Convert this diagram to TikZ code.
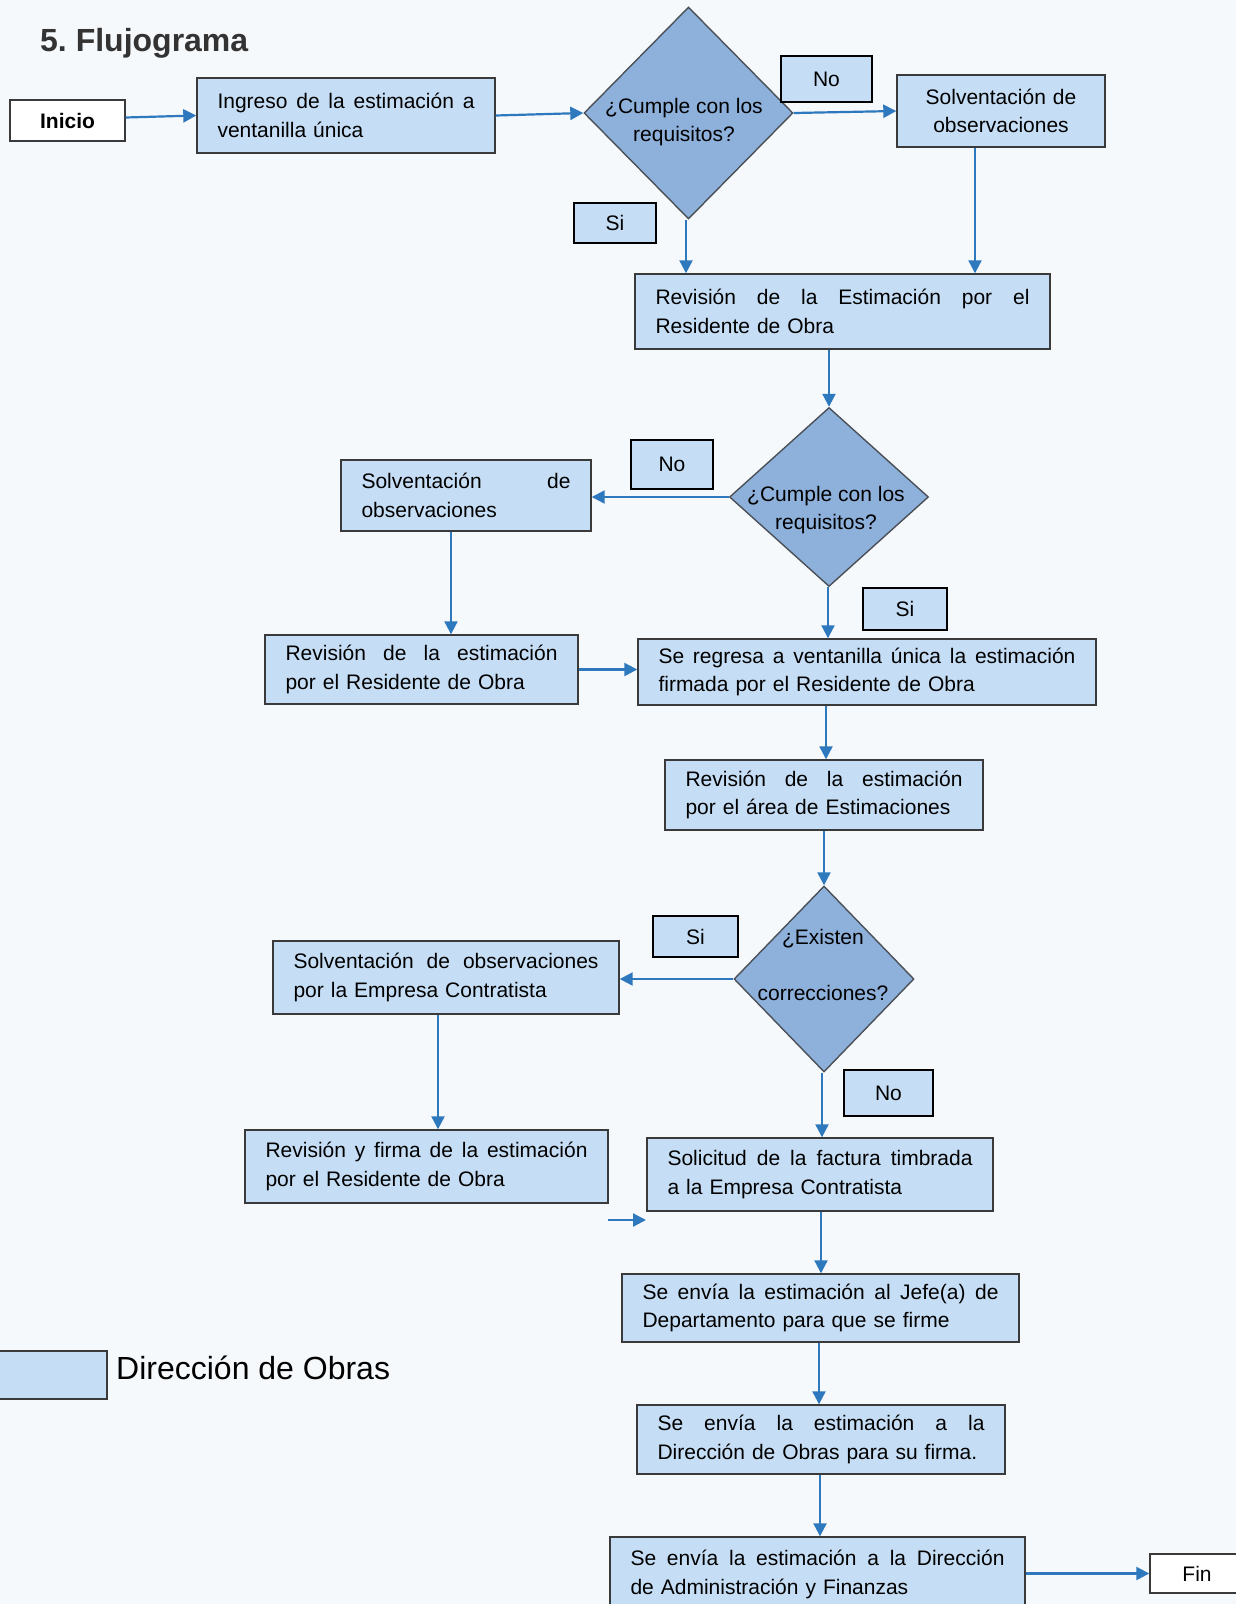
\documentclass[tikz,border=0pt]{standalone}
\usepackage{fontspec}
\setmainfont{Liberation Sans}
\usetikzlibrary{shapes.geometric,arrows.meta,calc}
\definecolor{bg}{HTML}{F6F9FC}
\definecolor{boxfill}{HTML}{C6DEF5}
\definecolor{diafill}{HTML}{8EB1DC}
\definecolor{arrc}{HTML}{2E78BE}
\definecolor{edgec}{HTML}{3A3A3A}
\definecolor{diaedge}{HTML}{4A5058}
\definecolor{titlec}{HTML}{333333}
\newcommand{\jl}[2]{\hbox to #1pt{\spaceskip=0.278em plus 1fil\relax #2}}
\frenchspacing
\begin{document}
\begin{tikzpicture}[x=1pt,y=-1pt,
  pb/.style={draw=edgec, line width=1.4pt, fill=boxfill, rectangle, inner xsep=20.5pt, inner ysep=0pt, align=left, font=\fontsize{21}{28.5}\selectfont},
  lbl/.style={draw=black, line width=1.4pt, fill=boxfill, rectangle, inner sep=0pt, font=\fontsize{21}{25}\selectfont},
  term/.style={draw=edgec, line width=1.4pt, fill=white, rectangle, inner sep=0pt, font=\fontsize{21}{25}\selectfont},
  dia/.style={draw=diaedge, line width=1.4pt, fill=diafill, diamond, inner sep=0pt},
  dtext/.style={align=center, inner sep=0pt, font=\fontsize{21}{28.5}\selectfont},
  arr/.style={draw=arrc, line width=2.2pt, -{Triangle[length=13pt,width=13pt]}}]
\fill[bg] (0,0) rectangle (1236,1604);
\useasboundingbox (0,0) rectangle (1236,1604);
\clip (0,0) rectangle (1236,1604);

\node[anchor=west, inner sep=0pt, font=\bfseries\fontsize{32}{36}\selectfont, text=titlec] (title) at (40,43) {5.\ Flujograma};

% start / end
\node[term, minimum width=115, minimum height=41, font=\bfseries\fontsize{21}{25}\selectfont] (inicio) at (67.5,120.5) {Inicio};
\node[term, minimum width=94, minimum height=39] (fin) at (1197,1573.5) {Fin};

% process boxes
\node[pb, minimum width=298, minimum height=75, text width=257] (ingreso) at (346,115.5) {\jl{257}{Ingreso de la estimación a}\\ventanilla única};
\node[pb, minimum width=208, minimum height=72, text width=167, align=center] (solv1) at (1001,111) {Solventación de\\observaciones};
\node[pb, minimum width=415, minimum height=75, text width=374] (rev1) at (842.5,311.5) {\jl{374}{Revisión de la Estimación por el}\\Residente de Obra};
\node[pb, minimum width=250, minimum height=71, text width=209] (solv2) at (466,495.5) {\jl{209}{Solventación de}\\observaciones};
\node[pb, minimum width=313, minimum height=69, text width=272] (rev2) at (421.5,669.5) {\jl{272}{Revisión de la estimación}\\por el Residente de Obra};
\node[pb, minimum width=458, minimum height=66, text width=417] (regresa) at (867,672) {\jl{417}{Se regresa a ventanilla única la estimación}\\firmada por el Residente de Obra};
\node[pb, minimum width=318, minimum height=70, text width=277] (revarea) at (824,795) {\jl{277}{Revisión de la estimación}\\por el área de Estimaciones};
\node[pb, minimum width=346, minimum height=73, text width=305] (solv3) at (446,977.5) {\jl{305}{Solventación de observaciones}\\por la Empresa Contratista};
\node[pb, minimum width=363, minimum height=73, text width=322] (revfirma) at (426.5,1166.5) {\jl{322}{Revisión y firma de la estimación}\\por el Residente de Obra};
\node[pb, minimum width=346, minimum height=73, text width=305] (solicitud) at (820,1174.5) {\jl{305}{Solicitud de la factura timbrada}\\a la Empresa Contratista};
\node[pb, minimum width=397, minimum height=68, text width=356] (envia1) at (820.5,1308) {\jl{356}{Se envía la estimación al Jefe(a) de}\\Departamento para que se firme};
\node[pb, minimum width=368, minimum height=69, text width=327] (envia2) at (821,1439.5) {\jl{327}{Se envía la estimación a la}\\Dirección de Obras para su firma.};
\node[pb, minimum width=415, minimum height=75, text width=374] (envia3) at (817.5,1574.5) {\jl{374}{Se envía la estimación a la Dirección}\\de Administración y Finanzas};

% decisions
\node[dia, minimum width=209, minimum height=212] (d1) at (688.5,113) {};
\node[dtext] (d1t) at (684,122) {¿Cumple con los\\requisitos?};
\node[dia, minimum width=199, minimum height=179] (d2) at (829,497) {};
\node[dtext] (d2t) at (826,510) {¿Cumple con los\\requisitos?};
\node[dia, minimum width=180, minimum height=186] (d3) at (824,979) {};
\node[dtext, font=\fontsize{21}{55.5}\selectfont] (d3t) at (823,965) {¿Existen\\correcciones?};

% labels
\node[lbl, minimum width=91, minimum height=46] (no1) at (826.5,79) {No};
\node[lbl, minimum width=82, minimum height=40] (si1) at (615,223) {Si};
\node[lbl, minimum width=82, minimum height=49] (no2) at (672,464.5) {No};
\node[lbl, minimum width=84, minimum height=42] (si2) at (905,609) {Si};
\node[lbl, minimum width=85, minimum height=41] (si3) at (695.5,936.5) {Si};
\node[lbl, minimum width=89, minimum height=46] (no3) at (888.5,1093) {No};

% legend
\node[draw=edgec, line width=1.2pt, fill=boxfill, minimum width=110, minimum height=48, inner sep=0pt] (leg) at (52,1375) {};
\node[anchor=west, inner sep=0pt, font=\fontsize{32}{36}\selectfont] (legt) at (116,1368) {Dirección de Obras};

% connectors
\draw[arr] ([yshift=3pt]inicio.east) -- (ingreso.west);
\draw[arr] (ingreso.east) -- (d1.west);
\draw[arr] (d1.east) -- (solv1.west);
\draw[arr] (d1.south -| 686,0) -- (rev1.north -| 686,0);
\draw[arr] (solv1.south -| 975,0) -- (rev1.north -| 975,0);
\draw[arr] (rev1.south -| d2.north) -- (d2.north);
\draw[arr] (d2.west) -- (d2.west -| solv2.east);
\draw[arr] (solv2.south -| 451,0) -- (rev2.north -| 451,0);
\draw[arr] (rev2.east) -- (rev2.east -| regresa.west);
\draw[arr] (d2.south -| 828,0) -- (regresa.north -| 828,0);
\draw[arr] (regresa.south -| 826,0) -- (revarea.north -| 826,0);
\draw[arr] (revarea.south -| d3.north) -- (d3.north);
\draw[arr] (d3.west) -- (d3.west -| solv3.east);
\draw[arr] (solv3.south -| 438,0) -- (revfirma.north -| 438,0);
\draw[arr] (d3.south -| 822,0) -- (solicitud.north -| 822,0);
\draw[arr] (solicitud.south -| 821,0) -- (envia1.north -| 821,0);
\draw[arr] (envia1.south -| 819,0) -- (envia2.north -| 819,0);
\draw[arr] (envia2.south -| 820,0) -- (envia3.north -| 820,0);
\draw[arr] (envia3.east |- fin.west) -- (fin.west);
\coordinate (s0) at (608,1220);
\coordinate (s1) at (646,1220);
\draw[arr] (s0) -- (s1);
\end{tikzpicture}
\end{document}
